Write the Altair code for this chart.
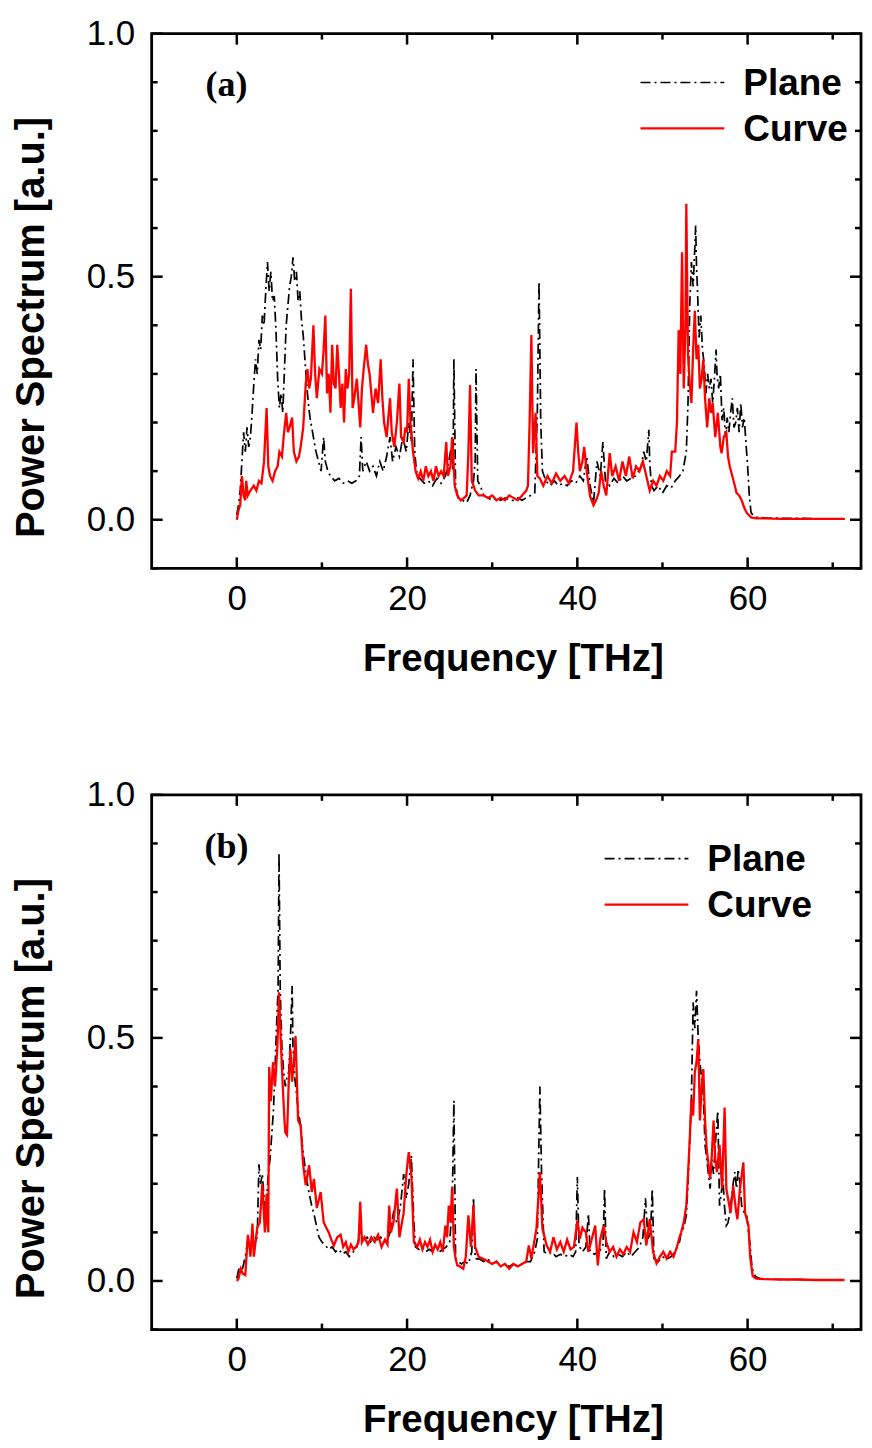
import altair as alt
import pandas as pd

# ---------------- data (frequency THz, power a.u.) ----------------
A_PLANE = [
    (0, 0.01), (0.2, 0.03), (0.4, 0.06), (0.6, 0.12), (0.8, 0.18), (1.0, 0.14), (1.2, 0.19), (1.4, 0.15),
    (1.6, 0.17), (1.8, 0.22), (2.0, 0.28), (2.2, 0.33), (2.4, 0.30), (2.6, 0.37), (2.8, 0.35), (3.0, 0.42),
    (3.2, 0.40), (3.4, 0.47), (3.6, 0.53), (3.8, 0.47), (4.0, 0.51), (4.2, 0.45), (4.4, 0.46), (4.6, 0.39),
    (4.8, 0.29), (5.0, 0.23), (5.2, 0.26), (5.4, 0.22), (5.6, 0.31), (5.8, 0.40), (6.0, 0.44), (6.2, 0.48),
    (6.4, 0.50), (6.6, 0.54), (6.8, 0.49), (7.0, 0.51), (7.2, 0.45), (7.4, 0.47), (7.6, 0.41), (7.8, 0.38),
    (8.0, 0.33), (8.2, 0.28), (8.4, 0.24), (8.6, 0.21), (8.8, 0.19), (9.0, 0.17), (9.3, 0.14), (9.6, 0.12),
    (9.9, 0.10), (10.2, 0.17), (10.4, 0.12), (10.7, 0.10), (11.0, 0.09), (11.5, 0.08), (12.0, 0.085),
    (12.5, 0.075), (13.0, 0.08), (13.5, 0.075), (14.0, 0.08), (14.4, 0.09), (14.6, 0.17), (14.8, 0.10),
    (15.2, 0.12), (15.6, 0.10), (16.0, 0.11), (16.4, 0.09), (16.8, 0.12), (17.2, 0.10), (17.6, 0.13),
    (18.0, 0.17), (18.3, 0.12), (18.7, 0.15), (19.1, 0.13), (19.5, 0.17), (19.9, 0.14), (20.2, 0.20),
    (20.5, 0.16), (20.7, 0.33), (20.9, 0.14), (21.1, 0.10), (21.5, 0.085), (22.0, 0.075), (22.5, 0.08),
    (23.0, 0.07), (23.5, 0.085), (24.0, 0.075), (24.5, 0.09), (24.9, 0.12), (25.2, 0.15), (25.4, 0.10),
    (25.5, 0.33), (25.7, 0.07), (26.0, 0.045), (26.5, 0.04), (27.0, 0.035), (27.4, 0.05), (27.8, 0.08),
    (28.0, 0.12), (28.1, 0.31), (28.3, 0.08), (28.6, 0.07), (29.0, 0.05), (29.5, 0.045), (30.0, 0.04),
    (30.5, 0.045), (31.0, 0.04), (31.5, 0.045), (32.0, 0.04), (32.5, 0.04), (33.0, 0.045), (33.5, 0.04),
    (34.0, 0.045), (34.5, 0.05), (35.0, 0.055), (35.3, 0.22), (35.5, 0.49), (35.7, 0.20), (35.9, 0.10),
    (36.3, 0.08), (36.8, 0.07), (37.3, 0.08), (37.8, 0.07), (38.3, 0.075), (38.8, 0.07), (39.3, 0.08),
    (39.8, 0.075), (40.3, 0.09), (40.7, 0.08), (41.1, 0.13), (41.5, 0.07), (41.9, 0.035), (42.3, 0.12),
    (42.7, 0.09), (43.0, 0.16), (43.3, 0.08), (43.8, 0.07), (44.3, 0.085), (44.8, 0.075), (45.3, 0.09),
    (45.8, 0.08), (46.3, 0.085), (46.8, 0.09), (47.2, 0.10), (47.5, 0.11), (47.8, 0.14), (48.1, 0.12),
    (48.4, 0.185), (48.5, 0.12), (48.7, 0.07), (49.0, 0.06), (49.5, 0.07), (50.0, 0.055), (50.5, 0.07),
    (51.0, 0.065), (51.5, 0.08), (52.0, 0.09), (52.4, 0.10), (52.8, 0.14), (53.0, 0.24), (53.2, 0.44),
    (53.4, 0.53), (53.6, 0.48), (53.8, 0.56), (53.9, 0.605), (54.0, 0.52), (54.1, 0.48), (54.3, 0.375),
    (54.5, 0.42), (54.7, 0.35), (54.9, 0.32), (55.1, 0.26), (55.3, 0.30), (55.5, 0.27), (55.7, 0.29),
    (55.9, 0.24), (56.1, 0.29), (56.3, 0.35), (56.4, 0.30), (56.6, 0.27), (56.8, 0.30), (57.0, 0.205),
    (57.2, 0.23), (57.4, 0.17), (57.6, 0.21), (57.8, 0.18), (58.0, 0.22), (58.2, 0.25), (58.4, 0.19),
    (58.6, 0.20), (58.8, 0.23), (59.0, 0.18), (59.2, 0.24), (59.4, 0.19), (59.6, 0.21), (59.8, 0.16),
    (60.0, 0.11), (60.2, 0.05), (60.4, 0.015), (60.7, 0.007), (61.0, 0.005), (62, 0.004), (64, 0.003),
    (66, 0.003), (68, 0.002), (70, 0.002), (71.4, 0.002),
]

A_CURVE = [
    (0, 0.0), (0.2, 0.02), (0.4, 0.03), (0.6, 0.09), (0.8, 0.05), (1.0, 0.04), (1.1, 0.08), (1.3, 0.05),
    (1.6, 0.06), (2.0, 0.07), (2.3, 0.06), (2.6, 0.08), (2.9, 0.075), (3.2, 0.12), (3.5, 0.23), (3.7, 0.11),
    (3.9, 0.09), (4.2, 0.08), (4.5, 0.10), (4.8, 0.11), (5.0, 0.14), (5.3, 0.13), (5.5, 0.17), (5.8, 0.22),
    (6.0, 0.18), (6.2, 0.19), (6.5, 0.21), (6.7, 0.14), (7.0, 0.12), (7.3, 0.13), (7.5, 0.15), (7.8, 0.19),
    (7.9, 0.22), (8.1, 0.28), (8.3, 0.31), (8.5, 0.27), (8.7, 0.29), (9.0, 0.40), (9.2, 0.30), (9.4, 0.25),
    (9.7, 0.31), (10.0, 0.30), (10.2, 0.35), (10.4, 0.42), (10.6, 0.26), (10.8, 0.30), (11.0, 0.22),
    (11.2, 0.36), (11.4, 0.28), (11.6, 0.27), (11.8, 0.36), (12.0, 0.30), (12.2, 0.23), (12.4, 0.28),
    (12.6, 0.20), (12.8, 0.31), (13.0, 0.27), (13.2, 0.30), (13.4, 0.475), (13.6, 0.23), (13.8, 0.25),
    (14.1, 0.29), (14.3, 0.24), (14.5, 0.19), (14.7, 0.27), (14.9, 0.31), (15.2, 0.36), (15.4, 0.32),
    (15.6, 0.30), (16.0, 0.22), (16.3, 0.27), (16.6, 0.24), (16.9, 0.33), (17.1, 0.25), (17.3, 0.20),
    (17.6, 0.17), (17.8, 0.21), (18.0, 0.25), (18.2, 0.18), (18.5, 0.15), (18.8, 0.20), (19.1, 0.28),
    (19.3, 0.17), (19.6, 0.16), (19.8, 0.19), (20.0, 0.18), (20.2, 0.29), (20.4, 0.20), (20.7, 0.14),
    (21.0, 0.10), (21.3, 0.085), (21.6, 0.10), (21.9, 0.08), (22.2, 0.11), (22.5, 0.09), (22.8, 0.10),
    (23.1, 0.08), (23.4, 0.11), (23.7, 0.09), (24.0, 0.10), (24.3, 0.09), (24.6, 0.16), (24.8, 0.09),
    (25.1, 0.11), (25.3, 0.17), (25.6, 0.07), (25.9, 0.05), (26.3, 0.04), (26.7, 0.045), (27.0, 0.05),
    (27.2, 0.137), (27.4, 0.277), (27.6, 0.08), (28.0, 0.06), (28.4, 0.05), (29.0, 0.05), (29.5, 0.045),
    (30.0, 0.05), (30.5, 0.04), (31.0, 0.045), (31.5, 0.04), (32.0, 0.05), (32.5, 0.045), (33.0, 0.04),
    (33.5, 0.05), (34.0, 0.06), (34.2, 0.07), (34.4, 0.205), (34.6, 0.38), (34.8, 0.137), (35.1, 0.22),
    (35.3, 0.09), (35.6, 0.085), (36.0, 0.07), (36.5, 0.09), (37.0, 0.075), (37.5, 0.095), (38.0, 0.08),
    (38.5, 0.09), (39.0, 0.075), (39.5, 0.10), (39.9, 0.20), (40.1, 0.14), (40.3, 0.10), (40.6, 0.12),
    (40.8, 0.15), (41.1, 0.10), (41.5, 0.048), (41.9, 0.03), (42.2, 0.04), (42.5, 0.055), (42.8, 0.10),
    (43.1, 0.07), (43.4, 0.05), (43.8, 0.137), (44.1, 0.09), (44.5, 0.11), (44.9, 0.08), (45.3, 0.12),
    (45.7, 0.09), (46.1, 0.13), (46.5, 0.085), (46.9, 0.11), (47.3, 0.10), (47.7, 0.12), (48.1, 0.09),
    (48.5, 0.06), (48.9, 0.08), (49.3, 0.07), (49.7, 0.09), (50.1, 0.08), (50.5, 0.10), (50.9, 0.09),
    (51.1, 0.14), (51.5, 0.14), (51.7, 0.20), (51.9, 0.39), (52.1, 0.30), (52.3, 0.55), (52.5, 0.27),
    (52.7, 0.40), (52.8, 0.65), (53.0, 0.34), (53.2, 0.28), (53.4, 0.24), (53.6, 0.35), (53.8, 0.43),
    (54.0, 0.33), (54.2, 0.36), (54.4, 0.27), (54.6, 0.29), (54.8, 0.33), (55.0, 0.25), (55.25, 0.19),
    (55.5, 0.25), (55.7, 0.22), (55.9, 0.24), (56.2, 0.17), (56.5, 0.22), (56.8, 0.15), (56.95, 0.137),
    (57.2, 0.17), (57.5, 0.18), (57.7, 0.13), (57.9, 0.11), (58.2, 0.09), (58.5, 0.07), (58.7, 0.055),
    (59.0, 0.05), (59.3, 0.04), (59.6, 0.025), (59.9, 0.014), (60.4, 0.005), (61.0, 0.003), (62.0, 0.003),
    (64, 0.002), (66, 0.002), (68, 0.002), (70, 0.002), (71.4, 0.002),
]

B_PLANE = [
    (0, 0.005), (0.3, 0.03), (0.6, 0.02), (1.0, 0.05), (1.3, 0.085), (1.6, 0.07), (2.0, 0.075), (2.4, 0.09),
    (2.6, 0.24), (2.8, 0.20), (3.0, 0.22), (3.2, 0.17), (3.4, 0.14), (3.7, 0.22), (3.9, 0.25), (4.1, 0.30),
    (4.3, 0.35), (4.5, 0.44), (4.7, 0.54), (4.85, 0.60), (4.96, 0.88), (5.1, 0.60), (5.3, 0.48), (5.5, 0.43),
    (5.7, 0.40), (5.9, 0.42), (6.1, 0.43), (6.3, 0.50), (6.5, 0.607), (6.6, 0.48), (6.8, 0.42), (7.1, 0.37),
    (7.3, 0.34), (7.5, 0.32), (7.7, 0.28), (7.9, 0.25), (8.2, 0.21), (8.5, 0.18), (8.8, 0.155), (9.1, 0.135),
    (9.4, 0.11), (9.65, 0.09), (10.0, 0.08), (10.4, 0.073), (10.8, 0.065), (11.2, 0.07), (11.6, 0.06),
    (12.0, 0.065), (12.4, 0.055), (12.8, 0.06), (13.2, 0.05), (13.7, 0.06), (14.1, 0.07), (14.5, 0.10),
    (14.9, 0.085), (15.3, 0.09), (15.7, 0.08), (16.1, 0.09), (16.5, 0.085), (16.9, 0.09), (17.3, 0.08),
    (17.7, 0.085), (18.0, 0.10), (18.4, 0.14), (18.8, 0.12), (19.2, 0.15), (19.6, 0.22), (19.9, 0.17),
    (20.2, 0.20), (20.5, 0.258), (20.8, 0.12), (21.0, 0.07), (21.4, 0.065), (21.8, 0.07), (22.2, 0.06),
    (22.6, 0.065), (23.0, 0.06), (23.4, 0.07), (23.8, 0.06), (24.2, 0.065), (24.6, 0.07), (25.0, 0.08),
    (25.3, 0.155), (25.5, 0.371), (25.7, 0.046), (26.0, 0.04), (26.4, 0.035), (26.8, 0.04), (27.2, 0.035),
    (27.6, 0.06), (27.8, 0.172), (28.0, 0.046), (28.5, 0.045), (29.0, 0.04), (29.5, 0.045), (30.0, 0.035),
    (30.5, 0.04), (31.0, 0.03), (31.5, 0.035), (32.0, 0.03), (32.5, 0.035), (33.0, 0.03), (33.5, 0.035),
    (34.0, 0.04), (34.5, 0.04), (35.0, 0.06), (35.3, 0.087), (35.6, 0.40), (35.8, 0.22), (36.1, 0.06),
    (36.5, 0.055), (37.0, 0.06), (37.5, 0.05), (38.0, 0.055), (38.5, 0.05), (39.0, 0.055), (39.5, 0.05),
    (39.8, 0.06), (40.0, 0.214), (40.2, 0.073), (40.6, 0.06), (41.0, 0.07), (41.3, 0.138), (41.5, 0.06),
    (42.0, 0.055), (42.5, 0.06), (43.0, 0.07), (43.2, 0.19), (43.4, 0.046), (43.8, 0.06), (44.3, 0.05),
    (44.8, 0.055), (45.3, 0.05), (45.8, 0.06), (46.3, 0.05), (46.8, 0.06), (47.3, 0.07), (47.7, 0.09),
    (48.0, 0.17), (48.3, 0.087), (48.6, 0.10), (48.8, 0.19), (49.0, 0.046), (49.5, 0.04), (50.0, 0.05),
    (50.5, 0.045), (51.0, 0.05), (51.5, 0.06), (52.0, 0.08), (52.2, 0.10), (52.5, 0.11), (52.8, 0.135),
    (53.0, 0.20), (53.2, 0.29), (53.4, 0.375), (53.6, 0.573), (53.8, 0.52), (54.0, 0.597), (54.2, 0.50),
    (54.4, 0.45), (54.6, 0.415), (54.8, 0.38), (55.0, 0.28), (55.2, 0.25), (55.4, 0.22), (55.6, 0.19),
    (55.8, 0.25), (56.0, 0.22), (56.2, 0.28), (56.5, 0.35), (56.7, 0.155), (56.9, 0.18), (57.1, 0.21),
    (57.3, 0.15), (57.5, 0.114), (57.7, 0.12), (57.9, 0.14), (58.1, 0.17), (58.3, 0.20), (58.5, 0.224),
    (58.7, 0.19), (58.9, 0.23), (59.1, 0.20), (59.3, 0.155), (59.6, 0.14), (59.9, 0.134), (60.1, 0.10),
    (60.3, 0.073), (60.5, 0.03), (60.7, 0.015), (61.0, 0.008), (61.5, 0.005), (62, 0.004), (64, 0.003),
    (66, 0.003), (68, 0.002), (70, 0.002), (71.4, 0.002),
]

B_CURVE = [
    (0, 0.0), (0.2, 0.005), (0.47, 0.025), (0.7, 0.015), (1.0, 0.012), (1.3, 0.095), (1.5, 0.07), (1.6, 0.05),
    (1.84, 0.118), (2.0, 0.05), (2.2, 0.08), (2.4, 0.11), (2.7, 0.12), (3.0, 0.20), (3.3, 0.10), (3.5, 0.18),
    (3.6, 0.12), (3.7, 0.10), (3.8, 0.44), (4.0, 0.37), (4.25, 0.45), (4.5, 0.40), (4.77, 0.484),
    (4.96, 0.594), (5.16, 0.497), (5.4, 0.40), (5.6, 0.33), (5.7, 0.305), (5.9, 0.30), (6.1, 0.41),
    (6.3, 0.477), (6.5, 0.41), (6.7, 0.45), (6.9, 0.504), (7.2, 0.33), (7.5, 0.32), (7.8, 0.238),
    (8.1, 0.197), (8.5, 0.238), (8.8, 0.183), (9.06, 0.21), (9.4, 0.15), (9.85, 0.183), (10.2, 0.121),
    (10.5, 0.11), (10.8, 0.10), (11.1, 0.085), (11.4, 0.073), (11.8, 0.09), (12.2, 0.095), (12.5, 0.07),
    (12.8, 0.08), (13.1, 0.06), (13.4, 0.075), (13.7, 0.065), (14.0, 0.07), (14.3, 0.08), (14.5, 0.163),
    (14.7, 0.08), (15.0, 0.09), (15.4, 0.075), (15.8, 0.09), (16.2, 0.08), (16.6, 0.095), (17.0, 0.07),
    (17.4, 0.085), (17.7, 0.075), (17.9, 0.155), (18.1, 0.10), (18.4, 0.12), (18.8, 0.19), (19.1, 0.09),
    (19.4, 0.12), (19.6, 0.14), (19.9, 0.217), (20.2, 0.265), (20.5, 0.22), (20.8, 0.08), (21.2, 0.07),
    (21.5, 0.085), (21.8, 0.065), (22.1, 0.08), (22.4, 0.07), (22.7, 0.085), (23.0, 0.06), (23.3, 0.075),
    (23.6, 0.065), (23.9, 0.08), (24.2, 0.06), (24.5, 0.114), (24.7, 0.09), (24.9, 0.155), (25.1, 0.12),
    (25.3, 0.193), (25.5, 0.07), (25.7, 0.046), (25.9, 0.032), (26.2, 0.03), (26.6, 0.025), (26.9, 0.05),
    (27.2, 0.135), (27.5, 0.07), (27.8, 0.155), (28.0, 0.07), (28.4, 0.05), (29.0, 0.045), (29.5, 0.04),
    (30.0, 0.035), (30.5, 0.04), (31.0, 0.03), (31.5, 0.035), (32.0, 0.025), (32.5, 0.035), (33.0, 0.03),
    (33.5, 0.035), (34.0, 0.04), (34.3, 0.073), (34.6, 0.046), (35.2, 0.108), (35.6, 0.224), (35.9, 0.108),
    (36.4, 0.073), (36.8, 0.06), (37.2, 0.09), (37.6, 0.065), (38.0, 0.08), (38.4, 0.06), (38.8, 0.085),
    (39.2, 0.065), (39.6, 0.07), (40.0, 0.124), (40.3, 0.087), (40.6, 0.11), (41.0, 0.10), (41.3, 0.06),
    (41.5, 0.073), (42.1, 0.114), (42.4, 0.032), (42.7, 0.087), (43.1, 0.114), (43.4, 0.08), (43.8, 0.06),
    (44.2, 0.07), (44.6, 0.05), (45.0, 0.065), (45.4, 0.055), (45.8, 0.07), (46.2, 0.06), (46.6, 0.10),
    (47.0, 0.08), (47.4, 0.12), (47.8, 0.127), (48.1, 0.073), (48.5, 0.127), (48.9, 0.06), (49.3, 0.036),
    (49.7, 0.05), (50.1, 0.06), (50.5, 0.046), (50.9, 0.06), (51.3, 0.05), (51.7, 0.07), (52.0, 0.09),
    (52.2, 0.10), (52.5, 0.12), (52.8, 0.155), (53.0, 0.22), (53.2, 0.29), (53.4, 0.375), (53.6, 0.34),
    (53.8, 0.43), (54.0, 0.45), (54.2, 0.497), (54.4, 0.33), (54.6, 0.40), (54.8, 0.436), (55.0, 0.33),
    (55.2, 0.27), (55.4, 0.24), (55.6, 0.21), (55.8, 0.26), (56.0, 0.33), (56.2, 0.25), (56.4, 0.224),
    (56.7, 0.28), (57.0, 0.19), (57.3, 0.357), (57.5, 0.19), (57.8, 0.16), (58.0, 0.14), (58.3, 0.196),
    (58.6, 0.15), (58.8, 0.127), (59.1, 0.19), (59.5, 0.244), (59.7, 0.14), (60.1, 0.114), (60.3, 0.05),
    (60.6, 0.01), (61.0, 0.005), (62, 0.004), (64, 0.003), (66, 0.003), (68, 0.002), (70, 0.002),
    (71.4, 0.002),
]

SERIES = ["Plane", "Curve"]
PANEL_LABELS = ["(a)", "(b)"]
X_MAJOR = [0, 20, 40, 60]
X_MINOR = [10, 30, 50, 70]
Y_MAJOR = [0.0, 0.5, 1.0]
Y_MINOR = [-0.1, 0.1, 0.2, 0.3, 0.4, 0.6, 0.7, 0.8, 0.9]
X_TITLE = "Frequency [THz]"
Y_TITLE = "Power Spectrum [a.u.]"

# ---------------- layout / style ----------------
W, H = 711, 536
XDOM = [-10, 73.32]
YDOM = [-0.1, 1.0]
SANS = "Liberation Sans, Arial, Helvetica, sans-serif"
SERIF = "Liberation Serif, Times New Roman, serif"
DASH = [10, 4, 2, 4]
MAJ, MIN = 11, 6
TICKW = 2.5

X_AXIS = alt.Axis(values=X_MAJOR, format="d", ticks=False, tickSize=0, domain=False, grid=False,
                  labelFont=SANS, labelFontSize=35, labelPadding=13, labelFlush=False, labelOverlap=False,
                  labelColor="black", title=X_TITLE, titleFont=SANS, titleColor="black",
                  titleFontSize=38.5, titleFontWeight="bold", titleX=362, titleY=72,
                  titleAlign="center", titleBaseline="top")
Y_AXIS = alt.Axis(values=Y_MAJOR, format=".1f", ticks=False, tickSize=0, domain=False, grid=False,
                  labelFont=SANS, labelFontSize=35, labelPadding=17, labelOverlap=False, labelColor="black",
                  title=Y_TITLE, titleFont=SANS, titleColor="black", titleFontSize=40,
                  titleFontWeight="bold", titleAngle=270, titleX=-120, titleY=294,
                  titleBaseline="middle", titleAlign="center")


def panel(label, plane, curve, leg):
    xs = alt.Scale(domain=XDOM, nice=False, zero=False)
    ys = alt.Scale(domain=YDOM, nice=False, zero=False)
    X = lambda fld: alt.X(fld, scale=xs, axis=X_AXIS)
    Y = lambda fld: alt.Y(fld, scale=ys, axis=Y_AXIS)

    dp = pd.DataFrame(plane, columns=["f", "v"])
    dc = pd.DataFrame(curve, columns=["f", "v"])
    layers = [
        alt.Chart(dp).mark_line(color="black", strokeWidth=1.7, strokeDash=DASH).encode(
            x=X("f:Q"), y=Y("v:Q")),
        alt.Chart(dc).mark_line(color="red", strokeWidth=2.3).encode(x=X("f:Q"), y=Y("v:Q")),
    ]

    # inward ticks on all four sides
    for vals, ln in ((Y_MAJOR, MAJ), (Y_MINOR, MIN)):
        d = pd.DataFrame({"v": vals})
        base = alt.Chart(d).mark_rule(color="black", strokeWidth=TICKW)
        layers.append(base.encode(y=Y("v:Q"), x=alt.value(0), x2=alt.value(ln)))
        layers.append(base.encode(y=Y("v:Q"), x=alt.value(W - ln), x2=alt.value(W)))
    for vals, ln in ((X_MAJOR, MAJ), (X_MINOR, MIN)):
        d = pd.DataFrame({"f": vals})
        base = alt.Chart(d).mark_rule(color="black", strokeWidth=TICKW)
        layers.append(base.encode(x=X("f:Q"), y=alt.value(H - ln), y2=alt.value(H)))
        layers.append(base.encode(x=X("f:Q"), y=alt.value(0), y2=alt.value(ln)))

    # panel label
    layers.append(alt.Chart(pd.DataFrame({"lab": [label]})).mark_text(
        font=SERIF, fontSize=36, fontWeight="bold", align="center", baseline="middle", color="black"
    ).encode(text="lab:N", x=alt.value(75), y=alt.value(52)))

    # legend (drawn in the plot area)
    lx, ly, tx = leg
    for i, (name, color, dash, sw) in enumerate(
            ((SERIES[0], "black", DASH, 1.7), (SERIES[1], "red", [1, 0], 2.3))):
        yy = ly + 46 * i
        d = pd.DataFrame({"s": [name]})
        layers.append(alt.Chart(d).mark_rule(color=color, strokeWidth=sw, strokeDash=dash).encode(
            x=alt.value(lx), x2=alt.value(lx + 84), y=alt.value(yy)))
        layers.append(alt.Chart(d).mark_text(
            font=SANS, fontSize=37, fontWeight="bold", align="left", baseline="middle", color="black"
        ).encode(text="s:N", x=alt.value(tx), y=alt.value(yy + 1.5)))

    return alt.layer(*layers).properties(width=W, height=H)


pa = panel(PANEL_LABELS[0], A_PLANE, A_CURVE, (490, 49, 593))
pb = panel(PANEL_LABELS[1], B_PLANE, B_CURVE, (454, 64, 557))

chart = alt.vconcat(pa, pb, spacing=227, bounds="flush").properties(
    padding={"left": 2, "top": 5, "right": 0, "bottom": 0},
    background="white",
).configure_view(
    stroke="black", strokeWidth=2.8
)

chart.save("out.html", embed_options={"renderer": "svg", "actions": False})
